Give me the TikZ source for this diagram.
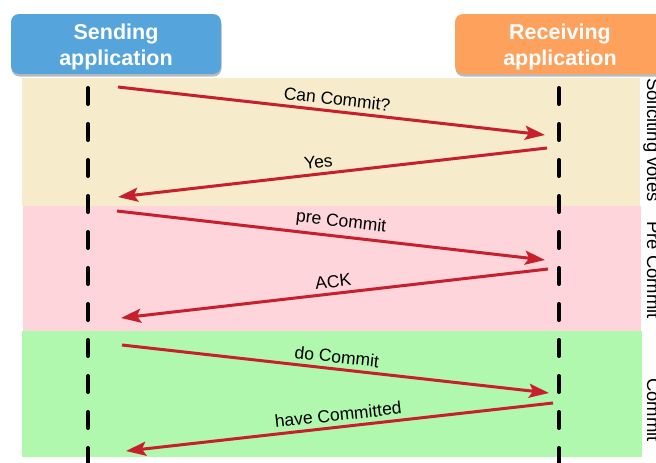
\documentclass[tikz,border=0pt]{standalone}
\usepackage{fontspec}
\setmainfont{Liberation Sans}
\usetikzlibrary{arrows.meta,shadows}
\definecolor{hdrblue}{HTML}{55A5DC}
\definecolor{hdrorange}{HTML}{FEA15D}
\definecolor{bandbeige}{HTML}{F6EBCB}
\definecolor{bandpink}{HTML}{FDD5DA}
\definecolor{bandgreen}{HTML}{AFF8AE}
\definecolor{msgred}{HTML}{C61F2D}
\begin{document}
\begin{tikzpicture}[x=1pt,y=-1pt,
  hdr/.style={rounded corners=8pt, minimum width=210pt, minimum height=60pt,
    text=white, align=center, inner sep=0pt,
    font=\fontsize{21.5}{25.5}\selectfont\bfseries,
    drop shadow={shadow xshift=0.5pt, shadow yshift=-2.5pt, fill=black!45, opacity=0.6}},
  hdrtext/.style={text=white, align=center, inner sep=0pt,
    font=\fontsize{21.5}{25.5}\selectfont\bfseries},
  lifeline/.style={line width=4pt, line cap=round, dash pattern=on 16pt off 20pt},
  msg/.style={draw=msgred, line width=3pt, -{Stealth[length=20pt,width=14pt,inset=4pt]}},
  lbl/.style={sloped, above, inner sep=4.5pt, font=\fontsize{17.5}{19}\selectfont},
  side/.style={rotate=-90, anchor=base, font=\fontsize{18.5}{20}\selectfont}]
\useasboundingbox (0,0) rectangle (656,463);
\clip (0,0) rectangle (656,463);
% bands
\fill[bandbeige] (22,78) rectangle (640,206);
\fill[bandpink] (23,206) rectangle (641,331);
\fill[bandgreen] (22,331) rectangle (642,457);
% headers
\node[hdr, fill=hdrblue] (send) at (116,44) {};
\node[hdrtext] (sendt) at (116,47) {Sending\\application};
\node[hdr, fill=hdrorange] (recv) at (560,44) {};
\node[hdrtext] (recvt) at (560,47) {Receiving\\application};
% lifelines
\coordinate (sTop) at (88,88);
\coordinate (sBot) at (88,480);
\coordinate (rTop) at (559,88);
\coordinate (rBot) at (559,480);
\draw[lifeline] (sTop) -- (sBot);
\draw[lifeline] (rTop) -- (rBot);
% message end points
\coordinate (m1s) at (118,87);  \coordinate (m1e) at (545,135);
\coordinate (m2s) at (547,148); \coordinate (m2e) at (118,197);
\coordinate (m3s) at (117,211); \coordinate (m3e) at (545,260);
\coordinate (m4s) at (548,269); \coordinate (m4e) at (121,318);
\coordinate (m5s) at (122,345); \coordinate (m5e) at (549,393);
\coordinate (m6s) at (553,403); \coordinate (m6e) at (126,451);
% messages
\draw[msg] (m1s) -- node[lbl, pos=0.51] (l1) {Can Commit?} (m1e);
\draw[msg] (m2s) -- node[lbl, pos=0.53] (l2) {Yes} (m2e);
\draw[msg] (m3s) -- node[lbl, pos=0.52] (l3) {pre Commit} (m3e);
\draw[msg] (m4s) -- node[lbl, pos=0.50] (l4) {ACK} (m4e);
\draw[msg] (m5s) -- node[lbl, pos=0.50] (l5) {do Commit} (m5e);
\draw[msg] (m6s) -- node[lbl, pos=0.50] (l6) {have Committed} (m6e);
% phase labels
\node[side] (p1) at (647,140) {Soliciting votes};
\node[side] (p2) at (647,270) {Pre Commit};
\node[side] (p3) at (647,410) {Commit};
\end{tikzpicture}
\end{document}
